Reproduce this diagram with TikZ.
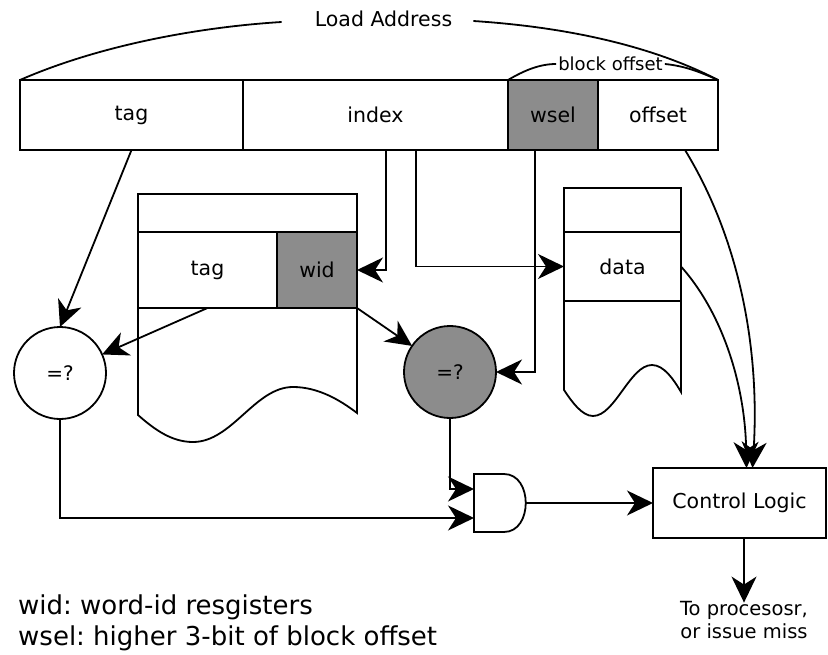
\documentclass[tikz,border=0pt]{standalone}
\usepackage{fontspec}
\setmainfont{DejaVu Sans}
\usetikzlibrary{arrows.meta}
\definecolor{cellgray}{RGB}{140,140,140}
\frenchspacing
\tikzset{
  base/.style={line width=1.8pt, line join=miter},
  arr/.style={base, -{Stealth[length=26pt,width=25pt,inset=8pt]}},
  field/.style={base, draw, rectangle, inner sep=0pt, outer sep=0pt, minimum height=70pt,
    font=\fontsize{20.5}{24}\selectfont},
  cell/.style={base, draw, rectangle, inner sep=0pt, outer sep=0pt,
    font=\fontsize{20.5}{24}\selectfont},
  cmp/.style={base, draw, circle, inner sep=0pt, outer sep=0pt, minimum size=92pt,
    font=\fontsize{20}{24}\selectfont},
  shade/.style={fill=cellgray},
}
\begin{document}
\begin{tikzpicture}[x=1pt, y=-1pt]
\useasboundingbox (0,0) rectangle (828,655);

% load address fields
\node[field, minimum width=223pt] (atag) at (131.5,115) {tag};
\node[field, minimum width=265pt] (aidx) at (375.5,115) {index};
\node[field, shade, minimum width=90pt] (awsel) at (553,115) {wsel};
\node[field, minimum width=120pt] (aoff) at (658,115) {offset};

% brace-like arcs with captions
\node[font=\fontsize{20.5}{24}\selectfont, inner sep=0pt] (lbl) at (383.5,19) {Load Address};
\draw[base] (atag.north west) .. controls (100,45) and (200,27) .. ([xshift=-33pt,yshift=-3pt]lbl.west);
\draw[base] ([xshift=21pt,yshift=-2pt]lbl.east) .. controls (580,28) and (660,50) .. (aoff.north east);
\node[font=\fontsize{18}{22}\selectfont, inner sep=0pt] (blk) at (610.5,64) {block offset};
\draw[base] (awsel.north west) .. controls (525,70) and (540,64) .. ([xshift=-2pt]blk.west);
\draw[base] ([xshift=2pt]blk.east) .. controls (685,66) and (700,72) .. (aoff.north east);

% tag array with word-id registers
\node[cell, minimum width=219pt, minimum height=38pt] (mtop) at (247.5,213) {};
\node[cell, minimum width=139pt, minimum height=76pt] (mtag) at (207.5,270) {tag};
\node[cell, shade, minimum width=80pt, minimum height=76pt] (mwid) at (317,270) {wid};
\draw[base] (mtag.south west) -- (138,415)
  .. controls (155,430) and (172,442) .. (193,442)
  .. controls (232,442) and (255,387) .. (293,387)
  .. controls (318,387) and (340,400) .. (357,413)
  -- (mwid.south east);

% data array
\node[cell, minimum width=117pt, minimum height=44pt] (dtop) at (622.5,210) {};
\node[cell, minimum width=117pt, minimum height=69pt] (ddata) at (622.5,266.5) {data};
\draw[base] (ddata.south west) -- (564,390)
  .. controls (572,402) and (582,416) .. (593,416)
  .. controls (615,416) and (630,365) .. (652,365)
  .. controls (664,365) and (674,380) .. (681,392)
  -- (ddata.south east);

% comparators
\node[cmp] (eq1) at (60,373) {=?};
\node[cmp, shade] (eq2) at (450,372) {=?};

% and gate
\draw[base] (474,474) -- (504,474) .. controls (533,474) and (533,532) .. (504,532) -- (474,532) -- cycle;
\coordinate (gin1) at (474,489);
\coordinate (gin2) at (474,518);
\coordinate (gout) at (526,503);

% control logic and its output
\node[cell, minimum width=173pt, minimum height=70pt] (ctl) at (739.5,503) {Control Logic};
\node[font=\fontsize{19.5}{23}\selectfont, align=center, inner sep=0pt, anchor=base] (out) at (744,638)
  {To procesosr,\\or issue miss};

% legend
\node[font=\fontsize{26}{31}\selectfont, align=left, inner sep=0pt, anchor=base west] (legend) at (18,645)
  {wid: word-id resgisters\\wsel: higher 3-bit of block offset};

% connections
\draw[arr] (atag.south) -- (eq1.north);
\draw[arr] (mtag.south) -- (eq1);
\draw[arr] (mwid.south east) -- (eq2);
\draw[arr] ([xshift=10.5pt]aidx.south) |- (mwid.east);
\draw[arr] ([xshift=40.5pt]aidx.south) |- (ddata.west);
\draw[arr] ([xshift=-18pt]awsel.south) |- (eq2.east);
\draw[arr] (eq2.south) |- (gin1);
\draw[arr] (eq1.south) |- (gin2);
\draw[arr] (gout) -- (ctl.west);
\draw[arr] ([xshift=27pt]aoff.south) .. controls (740,240) and (760,350) .. ([xshift=13pt]ctl.north);
\draw[arr] (ddata.east) .. controls (720,310) and (745,380) .. ([xshift=7pt]ctl.north);
\draw[arr] (ctl.south -| out.north) -- ([yshift=-2pt]out.north);
\end{tikzpicture}
\end{document}
